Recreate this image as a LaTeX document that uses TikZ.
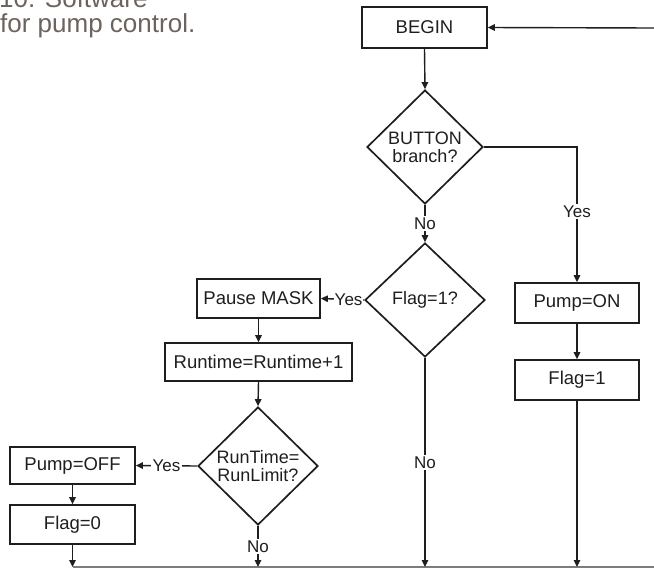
\documentclass[tikz,border=0pt]{standalone}
\usepackage{fontspec}
\setmainfont{Liberation Sans}
\usetikzlibrary{shapes.geometric,arrows.meta}
\definecolor{ink}{RGB}{30,30,30}
\definecolor{capcol}{RGB}{108,98,94}
\definecolor{buscol}{RGB}{125,125,125}
\tikzset{
  boxnode/.style={draw=ink, line width=1.7pt, inner sep=0pt, font=\fontsize{18.5}{19}\selectfont, text=ink},
  dianode/.style={draw=ink, line width=1.7pt, shape=diamond, inner sep=0pt},
  diatext/.style={font=\fontsize{18}{18}\selectfont, text=ink, align=center, inner sep=0pt},
  conn/.style={draw=ink, line width=1.4pt, -{Triangle[length=7pt,width=6.5pt]}},
  lbl/.style={fill=white, inner sep=1.5pt, font=\fontsize{17}{17}\selectfont, text=ink},
  busline/.style={draw=buscol, line width=2.8pt},
  caption/.style={font=\fontsize{26}{26}\selectfont, text=capcol, anchor=base west, inner sep=0pt}
}
\begin{document}
\begin{tikzpicture}[x=1pt,y=-1pt]
\useasboundingbox (0,0) rectangle (654,571);
\clip (0,0) rectangle (654,571);
% caption
\node[caption] (cap1) at (-1,7) {10. Software};
\node[caption] (cap2) at (0,32.5) {for pump control.};
% boxes
\node[boxnode, minimum width=125pt, minimum height=41pt] (begin) at (424.5,27.5) {BEGIN};
\node[boxnode, minimum width=123pt, minimum height=39pt] (pause) at (258.5,298.5) {Pause MASK};
\node[boxnode, minimum width=187pt, minimum height=38pt] (rt) at (258.5,362) {Runtime=Runtime+1};
\node[boxnode, minimum width=125pt, minimum height=37pt] (poff) at (72.5,465.5) {Pump=OFF};
\node[boxnode, minimum width=125pt, minimum height=39pt] (f0) at (72.5,524.5) {Flag=0};
\node[boxnode, minimum width=124pt, minimum height=40pt] (pon) at (577,303) {Pump=ON};
\node[boxnode, minimum width=124pt, minimum height=40pt] (f1) at (577,380) {Flag=1};
% diamonds
\node[dianode, minimum width=116pt, minimum height=114pt] (btn) at (425,147) {};
\node[diatext] at (btn) {BUTTON\\branch?};
\node[dianode, minimum width=120pt, minimum height=114pt] (flag) at (425,300) {};
\node[diatext] at (flag) {Flag=1?};
\node[dianode, minimum width=120pt, minimum height=118pt] (rl) at (258,466) {};
\node[diatext] at (rl) {RunTime=\\RunLimit?};
% coordinates
\coordinate (topR) at (654,28);
\coordinate (busL) at (72.5,567);
\coordinate (busR) at (654,567);
\coordinate (bus0) at (72.5,567);
\coordinate (bus1) at (258,567);
\coordinate (bus2) at (425,567);
\coordinate (bus3) at (577,567);
% bus
\draw[busline] (busL) -- (busR);
% connectors
\draw[conn] (topR) -- (begin.east);
\draw[conn] (begin.south) -- (btn.north);
\draw[conn] (btn.south) -- node[lbl] {No} (flag.north);
\draw[conn] (btn.east) -| node[lbl, pos=0.74] {Yes} (pon.north);
\draw[conn] (pon.south) -- (f1.north);
\draw[conn] (f1.south) -- (bus3);
\draw[conn] (flag.west) -- node[lbl, pos=0, anchor=east, inner sep=1pt] {Yes} (pause.east);
\draw[conn] (flag.south) -- node[lbl] {No} (bus2);
\draw[conn] (pause.south) -- (rt.north);
\draw[conn] (rt.south) -- (rl.north);
\draw[conn] (rl.west) -- node[lbl] {Yes} (poff.east);
\draw[conn] (rl.south) -- node[lbl] {No} (bus1);
\draw[conn] (poff.south) -- (f0.north);
\draw[conn] (f0.south) -- (bus0);
\end{tikzpicture}
\end{document}
